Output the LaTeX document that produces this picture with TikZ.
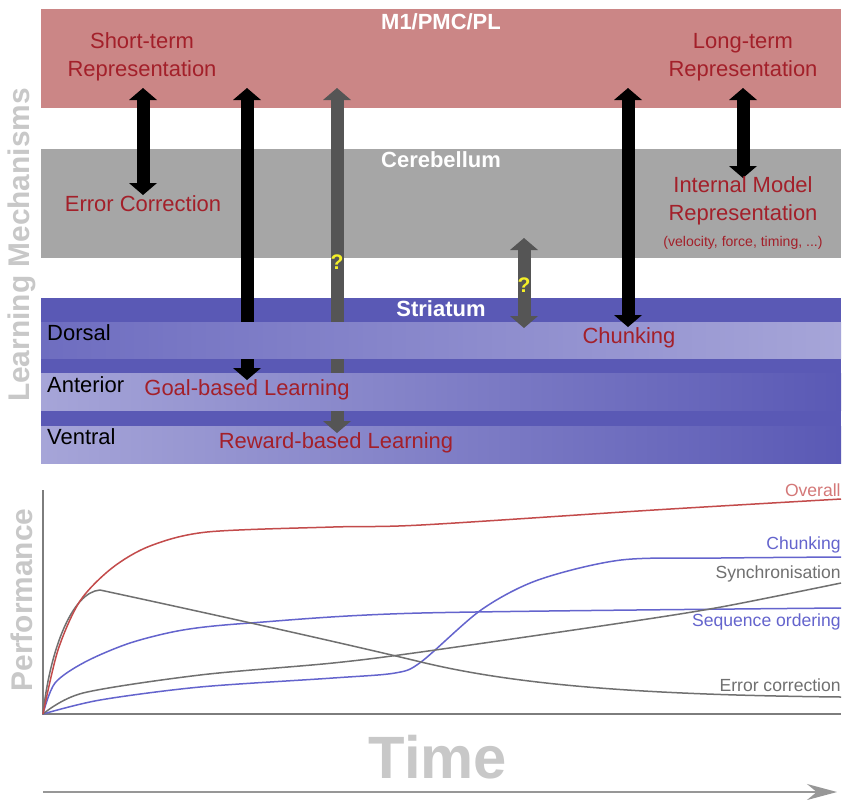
\documentclass[tikz,border=0pt]{standalone}
\usepackage{fontspec}
\setmainfont{Liberation Sans}
\usetikzlibrary{positioning,arrows.meta}
\tikzstyle{canvas} = [x = 0.02cm, y = -0.02cm]
\definecolor{cortexColor}{RGB}{203,134,134}
\definecolor{cerebellumColor}{RGB}{166,166,166}
\definecolor{striatumDark}{RGB}{90,89,181}
\definecolor{striatumMid}{RGB}{110,109,192}
\definecolor{striatumLight}{RGB}{166,165,216}
\definecolor{labelRed}{RGB}{163,32,42}
\definecolor{arrowGray}{RGB}{85,85,85}
\definecolor{questionYellow}{RGB}{245,240,40}
\definecolor{titleGray}{RGB}{200,200,200}
\definecolor{overallRed}{RGB}{195,75,75}
\definecolor{overallLabel}{RGB}{212,120,120}
\definecolor{phaseBlue}{RGB}{100,100,205}
\definecolor{phaseGray}{RGB}{112,112,112}
\definecolor{axisGray}{RGB}{125,125,125}
\tikzstyle{regionTitle} = [color=white, font=\bfseries\fontsize{12.5}{15}\selectfont]
\tikzstyle{mechanismText} = [color=labelRed, align=center, font=\fontsize{12.5}{16}\selectfont]
\tikzstyle{subregionText} = [color=black, anchor=west, font=\fontsize{12.5}{15}\selectfont]
\tikzstyle{axisTitle} = [color=titleGray, font=\bfseries\fontsize{17}{20}\selectfont, rotate=90]
\tikzstyle{curveLabel} = [anchor=east, inner sep=0pt, font=\fontsize{10}{12}\selectfont]
\tikzstyle{question} = [color=questionYellow, font=\bfseries\fontsize{12}{14}\selectfont]
\tikzstyle{curveLine} = [line width=0.03cm, line join=round]
\tikzstyle{axisLine} = [color=axisGray, line width=0.04cm]
\newcommand{\headLength}{0.24cm}
\newcommand{\shaftWidth}{0.26cm}
\newcommand{\arrowShaft}[3]{\draw [#1, line width = \shaftWidth] ([yshift = -\headLength]#2) -- ([yshift = \headLength]#3);}
\newcommand{\arrowHeadUp}[2]{\fill [#1] (#2) -- ++(14, 12) -- ++(-28, 0) -- cycle;}
\newcommand{\arrowHeadDown}[2]{\fill [#1] (#2) -- ++(14, -12) -- ++(-28, 0) -- cycle;}
\newcommand{\regionBand}[3]{\fill [#1] (41, #2) rectangle (841, #3);}
\newcommand{\shadedBand}[4]{\shade [left color = #1, right color = #2] (41, #3) rectangle (841, #4);}

\begin{document}
\begin{tikzpicture}[canvas]
  \useasboundingbox (0, 0) rectangle (842, 799);
  \fill [white] (0, 0) rectangle (842, 799);
  % brain regions
  \regionBand{cortexColor}{9}{108}
  \regionBand{cerebellumColor}{149}{258}
  \regionBand{striatumDark}{298}{463}
  % arrow ends
  \coordinate (shortTop) at (143, 88);
  \coordinate (shortBottom) at (143, 195);
  \coordinate (goalTop) at (247, 88);
  \coordinate (goalBottom) at (247, 380);
  \coordinate (rewardTop) at (337, 88);
  \coordinate (rewardBottom) at (337, 433);
  \coordinate (striatumTop) at (524, 238);
  \coordinate (striatumBottom) at (524, 328);
  \coordinate (chunkTop) at (628, 88);
  \coordinate (chunkBottom) at (628, 327);
  \coordinate (longTop) at (743, 88);
  \coordinate (longBottom) at (743, 178);
  \arrowShaft{black}{shortTop}{shortBottom}
  \arrowShaft{black}{goalTop}{goalBottom}
  \arrowShaft{arrowGray}{rewardTop}{rewardBottom}
  \arrowShaft{arrowGray}{striatumTop}{striatumBottom}
  \arrowShaft{black}{chunkTop}{chunkBottom}
  \arrowShaft{black}{longTop}{longBottom}
  % striatal subdivisions
  \shadedBand{striatumMid}{striatumLight}{322}{358}
  \shadedBand{striatumLight}{striatumDark}{373}{410}
  \shadedBand{striatumLight}{striatumDark}{426}{463}
  \foreach \arrowName/\arrowColor in {short/black, goal/black, reward/arrowGray, striatum/arrowGray, chunk/black, long/black} {
    \arrowHeadUp{\arrowColor}{\arrowName Top}
    \arrowHeadDown{\arrowColor}{\arrowName Bottom}
  }
  \node [regionTitle] (cortexTitle) at (441, 22) {M1/PMC/PL};
  \node [regionTitle] (cerebellumTitle) at (441, 160) {Cerebellum};
  \node [regionTitle] (striatumTitle) at (441, 309) {Striatum};
  \node [subregionText] (dorsalLabel) at (41, 333) {Dorsal};
  \node [subregionText] (anteriorLabel) at (41, 385) {Anterior};
  \node [subregionText] (ventralLabel) at (41, 437) {Ventral};
  \node [mechanismText] (shortText) at (142, 57) {Short-term\\Representation};
  \node [mechanismText] (longText) at (743, 57) {Long-term\\Representation};
  \node [mechanismText] (errorText) at (143, 204) {Error Correction};
  \node [mechanismText] (internalText) at (743, 201) {Internal Model\\Representation};
  \node [mechanismText, font=\fontsize{8}{10}\selectfont, below = -1pt of internalText] (internalDetail) {(velocity, force, timing, ...)};
  \node [mechanismText] (goalText) at (247, 390) {Goal-based Learning};
  \node [mechanismText] (rewardText) at (336, 443) {Reward-based Learning};
  \node [mechanismText] (chunkText) at (629, 338) {Chunking};
  \node [question] (rewardQuestion) at (337, 262) {?};
  \node [question] (striatumQuestion) at (524, 285) {?};
  \node [axisTitle] (mechanismTitle) at (22, 245) {Learning Mechanisms};
  % performance over time
  \coordinate (origin) at (43, 714);
  \coordinate (yAxisEnd) at (43, 490);
  \coordinate (xAxisEnd) at (841, 714);
  \draw [axisLine] (yAxisEnd) -- (origin) -- (xAxisEnd);
  \draw [curveLine, phaseBlue] plot [smooth] coordinates {(43,714) (100,700) (200,687) (333,678) (395,673) (421,662) (481,610) (538,580) (621,560) (720,558) (841,557)};
  \draw [curveLine, phaseBlue] plot [smooth] coordinates {(43,714) (55,683) (85,662) (130,643) (183,630) (250,623) (421,613) (841,608)};
  \draw [curveLine, phaseGray] plot [smooth] coordinates {(43,714) (83,693) (200,675) (333,663) (421,652) (621,623) (721,607) (841,583)};
  \draw [curveLine, phaseGray] (origin) .. controls (50,650) and (72,592) .. (100,590) .. controls (170,605) and (330,640) .. (421,662) .. controls (520,686) and (650,695) .. (841,697);
  \draw [curveLine, overallRed] plot [smooth] coordinates {(43,714) (58,650) (80,601) (112,568) (150,546) (207,532) (333,527) (421,525) (654,510) (841,499)};
  \node [curveLabel, overallLabel] (overallLabel) at (841, 490) {Overall};
  \node [curveLabel, phaseBlue] (chunkLabel) at (841, 545) {Chunking};
  \node [curveLabel, phaseGray] (syncLabel) at (841, 574) {Synchronisation};
  \node [curveLabel, phaseBlue] (sequenceLabel) at (841, 622) {Sequence ordering};
  \node [curveLabel, phaseGray] (errorLabel) at (841, 685) {Error correction};
  \node [axisTitle] (performanceTitle) at (22, 600) {Performance};
  \node [color=titleGray, font=\bfseries\fontsize{34}{40}\selectfont] (timeTitle) at (438, 757) {Time};
  \coordinate (timeStart) at (43, 792);
  \coordinate (timeEnd) at (837, 792);
  \draw [-{Stealth[length = 0.6cm, width = 0.32cm]}, color = axisGray!80, line width = 0.035cm] (timeStart) -- (timeEnd);
\end{tikzpicture}
\end{document}
